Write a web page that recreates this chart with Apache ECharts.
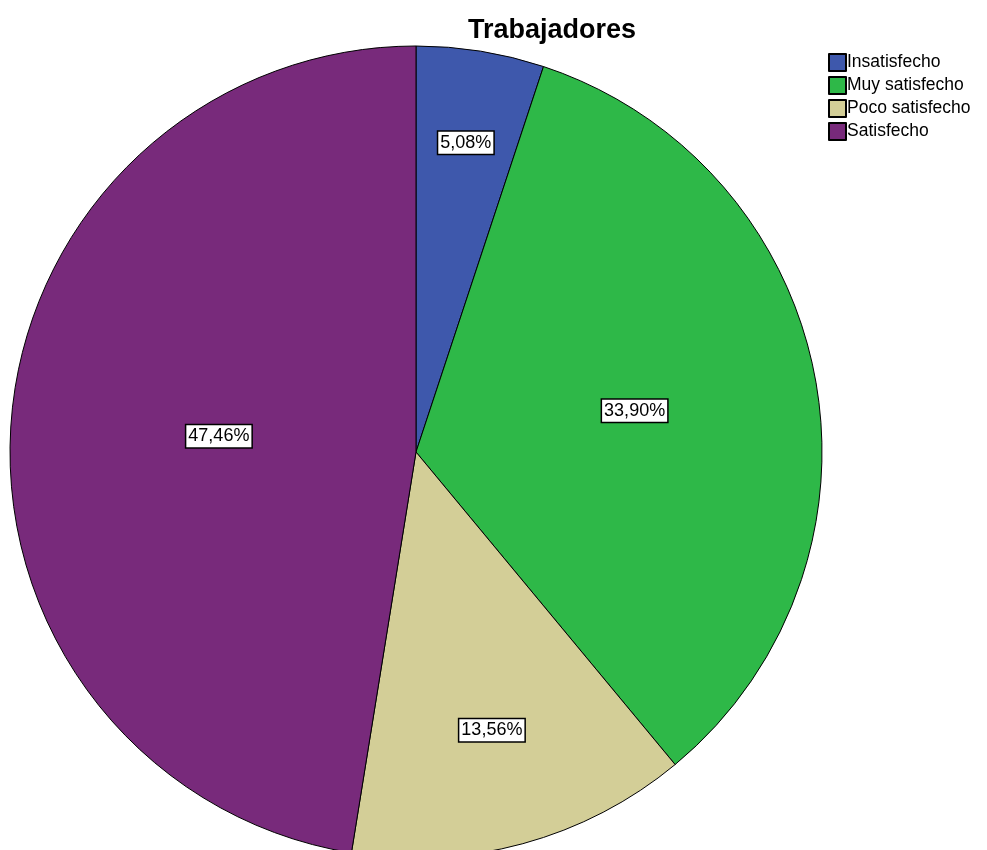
<!DOCTYPE html>
<html><head><meta charset="utf-8">
<script src="https://cdn.jsdelivr.net/npm/echarts@6/dist/echarts.min.js"></script>
<style>html,body{margin:0;padding:0;background:#fff}#c{width:987px;height:850px}</style>
</head><body><div id="c"></div>
<script>
const categories = ['Insatisfecho', 'Muy satisfecho', 'Poco satisfecho', 'Satisfecho'];
const counts = [3, 20, 8, 28];
const colors = ['#3E58AC', '#2EB848', '#D3CE97', '#782A7B'];
const title = 'Trabajadores';

// layout: pie centre/radius and radial placement of each inside label (fraction of radius)
const CX = 416, CY = 452, R = 406;
const labelRadial = [0.76, 0.54, 0.70, 0.48];

const chart = echarts.init(document.getElementById('c'), null, {renderer: 'canvas'});
chart.setOption({
  backgroundColor: '#fff',
  animation: false,
  title: {
    text: title, left: 547, top: 12, textAlign: 'center',
    textStyle: {fontFamily: 'Liberation Sans', fontSize: 27, fontWeight: 'bold', color: '#000'}
  },
  legend: {
    orient: 'vertical', left: 823, top: 48,
    itemWidth: 17, itemHeight: 17, itemGap: 4,
    icon: 'rect',
    textStyle: {fontFamily: 'Liberation Sans', fontSize: 17.5, color: '#000', padding: [0, 0, 0, -4]},
    data: categories
  },
  series: [{
    type: 'pie',
    center: [CX, CY],
    radius: [0, R],
    startAngle: 90,
    clockwise: true,
    avoidLabelOverlap: false,
    itemStyle: {borderColor: '#000', borderWidth: 1},
    label: {
      show: true, position: 'inside',
      formatter: p => p.percent.toFixed(2).replace('.', ',') + '%',
      fontFamily: 'Liberation Sans', fontSize: 18, color: '#000',
      backgroundColor: '#fff', borderColor: '#000', borderWidth: 1.5,
      padding: [3, 2, 1, 2]
    },
    labelLayout: function (p) {
      const lr = p.labelRect;
      const lx = lr.x + lr.width / 2, ly = lr.y + lr.height / 2;
      const k = labelRadial[p.dataIndex] / 0.5;
      return {x: CX + (lx - CX) * k, y: CY + (ly - CY) * k, align: 'center', verticalAlign: 'middle'};
    },
    labelLine: {show: false},
    emphasis: {disabled: true},
    data: categories.map((n, i) => ({name: n, value: counts[i], itemStyle: {color: colors[i]}}))
  }]
});
</script></body></html>
